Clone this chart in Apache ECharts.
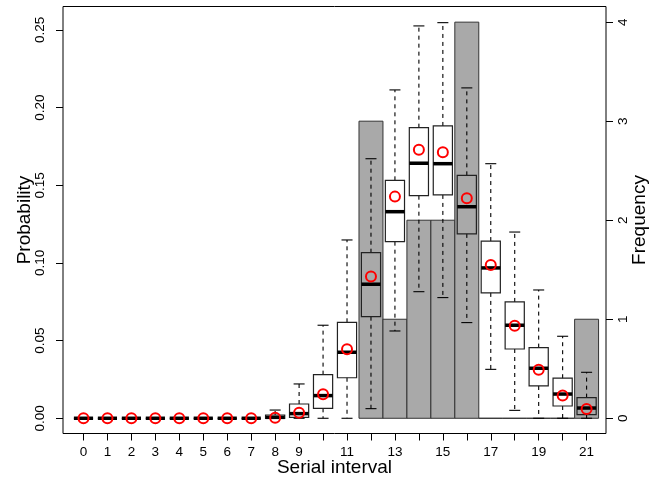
<!DOCTYPE html>
<html>
<head>
<meta charset="utf-8">
<script src="https://cdn.jsdelivr.net/npm/echarts@6/dist/echarts.min.js"></script>
<style>
  html, body { margin: 0; padding: 0; background: #fff; }
  #chart { width: 651px; height: 485px; }
</style>
</head>
<body>
<div id="chart"></div>
<script>
const intervals = [0, 1, 2, 3, 4, 5, 6, 7, 8, 9, 10, 11, 12, 13, 14, 15, 16, 17, 18, 19, 20, 21];
// observed counts (only 12..21 were plotted as bars)
const frequency = [null, null, null, null, null, null, null, null, null, null, null, null, 3, 1, 2, 2, 4, 0, 0, 0, 0, 1];
// boxplot stats on the probability scale
const whiskerLow = [0, 0, 0, 0, 0, 0, 0, 0, 0, 0, 0, 0, 0.0062, 0.0562, 0.0815, 0.0777, 0.0616, 0.0315, 0.0051, 0, 0, 0];
const q1 = [0, 0, 0, 0, 0, 0, 0, 0, 0, 0.0006, 0.0064, 0.0261, 0.0654, 0.1137, 0.1433, 0.1438, 0.1187, 0.0807, 0.0446, 0.0208, 0.0079, 0.0023];
const medians = [0, 0, 0, 0, 0, 0, 0, 0, 0.0006, 0.003, 0.0146, 0.0425, 0.0863, 0.133, 0.1642, 0.1639, 0.1362, 0.0968, 0.0599, 0.0322, 0.0156, 0.0066];
const q3 = [0, 0, 0, 0, 0, 0, 0, 0, 0.0021, 0.0092, 0.0281, 0.0618, 0.1066, 0.1532, 0.1871, 0.1882, 0.1564, 0.1141, 0.0749, 0.0455, 0.0258, 0.0133];
const whiskerHigh = [0, 0, 0, 0, 0, 0, 0, 0, 0.0053, 0.0221, 0.0599, 0.1148, 0.1671, 0.2114, 0.2526, 0.2547, 0.2127, 0.1639, 0.1199, 0.0826, 0.0528, 0.0296];
const means = [0, 0, 0, 0, 0, 0, 0, 0, 0.0004, 0.0036, 0.0155, 0.0444, 0.0912, 0.1427, 0.1729, 0.1712, 0.1416, 0.0987, 0.0596, 0.0313, 0.0146, 0.006];

const probTicks = [0, 0.05, 0.1, 0.15, 0.2, 0.25];
const freqTicks = [0, 1, 2, 3, 4];
const xLabels = [0, 1, 2, 3, 4, 5, 6, 7, 8, 9, 11, 13, 15, 17, 19, 21];

const FONT = '"Liberation Sans", Arial, sans-serif';
const chart = echarts.init(document.getElementById('chart'), null, { renderer: 'canvas' });

function renderBar(params, api) {
  const x = api.value(0);
  const f = api.value(1);
  const p0 = api.coord([x - 0.5, 0]);
  const p1 = api.coord([x + 0.5, f]);
  return {
    type: 'rect',
    shape: { x: p0[0], y: p1[1], width: p1[0] - p0[0], height: p0[1] - p1[1] },
    style: { fill: '#a9a9a9', stroke: '#333', lineWidth: 1 }
  };
}

function renderBox(params, api) {
  const x = api.value(0);
  const c = v => api.coord([x, v]);
  const cx = c(0)[0];
  const xl = api.coord([x - 0.4, 0])[0];
  const xr = api.coord([x + 0.4, 0])[0];
  const kl = api.coord([x - 0.23, 0])[0];
  const kr = api.coord([x + 0.23, 0])[0];
  const yLo = c(api.value(1))[1];
  const yQ1 = c(api.value(2))[1];
  const yMed = c(api.value(3))[1];
  const yQ3 = c(api.value(4))[1];
  const yHi = c(api.value(5))[1];
  const dash = { stroke: '#000', lineWidth: 1.1, lineDash: [4, 4] };
  const solid = { stroke: '#000', lineWidth: 1.1 };
  return {
    type: 'group',
    children: [
      { type: 'line', shape: { x1: cx, y1: yQ1, x2: cx, y2: yLo }, style: dash },
      { type: 'line', shape: { x1: cx, y1: yQ3, x2: cx, y2: yHi }, style: dash },
      { type: 'line', shape: { x1: kl, y1: yLo, x2: kr, y2: yLo }, style: solid },
      { type: 'line', shape: { x1: kl, y1: yHi, x2: kr, y2: yHi }, style: solid },
      { type: 'rect', shape: { x: xl, y: yQ3, width: xr - xl, height: yQ1 - yQ3 }, style: { fill: null, stroke: '#222', lineWidth: 1.2 } },
      { type: 'line', shape: { x1: xl, y1: yMed, x2: xr, y2: yMed }, style: { stroke: '#000', lineWidth: 3.5 } }
    ]
  };
}

chart.setOption({
  animation: false,
  backgroundColor: '#fff',
  grid: { left: 63, right: 45, top: 6.5, bottom: 51.5, show: true, borderColor: '#000', borderWidth: 1 },
  xAxis: {
    type: 'value', min: -0.855, max: 21.81,
    splitLine: { show: false },
    axisLine: { show: false, onZero: false },
    axisTick: { show: true, length: 7, customValues: intervals, lineStyle: { color: '#000' } },
    axisLabel: { customValues: xLabels, margin: 12, color: '#000', fontSize: 13.5, fontFamily: FONT }
  },
  yAxis: [{
    type: 'value', min: -0.0098, max: 0.2651,
    splitLine: { show: false },
    axisLine: { show: false, onZero: false },
    axisTick: { show: true, length: 7, customValues: probTicks, lineStyle: { color: '#000' } },
    axisLabel: { customValues: probTicks, rotate: 90, margin: 16, color: '#000', fontSize: 13.5, fontFamily: FONT,
      formatter: v => v.toFixed(2) }
  }, {
    type: 'value', min: -0.1537, max: 4.158, position: 'right',
    splitLine: { show: false },
    axisLine: { show: false, onZero: false },
    axisTick: { show: true, length: 7, customValues: freqTicks, lineStyle: { color: '#000' } },
    axisLabel: { customValues: freqTicks, rotate: 90, margin: 10, color: '#000', fontSize: 13.5, fontFamily: FONT }
  }],
  graphic: [
    { type: 'text', x: 25, y: 220, rotation: Math.PI / 2,
      style: { text: 'Probability', fill: '#000', font: '19px ' + FONT, align: 'center', verticalAlign: 'middle' } },
    { type: 'text', x: 640, y: 220, rotation: Math.PI / 2,
      style: { text: 'Frequency', fill: '#000', font: '19px ' + FONT, align: 'center', verticalAlign: 'middle' } },
    { type: 'text', x: 334.5, y: 468,
      style: { text: 'Serial interval', fill: '#000', font: '19px ' + FONT, align: 'center', verticalAlign: 'middle' } }
  ],
  series: [{
    type: 'custom', yAxisIndex: 1, z: 1,
    renderItem: renderBar,
    data: intervals.map((x, i) => [x, frequency[i]]).filter(d => d[1] !== null)
  }, {
    type: 'custom', yAxisIndex: 0, z: 2,
    renderItem: renderBox,
    data: intervals.map((x, i) => [x, whiskerLow[i], q1[i], medians[i], q3[i], whiskerHigh[i]])
  }, {
    type: 'scatter', yAxisIndex: 0, z: 3,
    symbol: 'circle', symbolSize: 10,
    itemStyle: { color: 'rgba(0,0,0,0)', borderColor: '#ff0000', borderWidth: 2, opacity: 1 },
    data: intervals.map((x, i) => [x, means[i]])
  }]
});
</script>
</body>
</html>
